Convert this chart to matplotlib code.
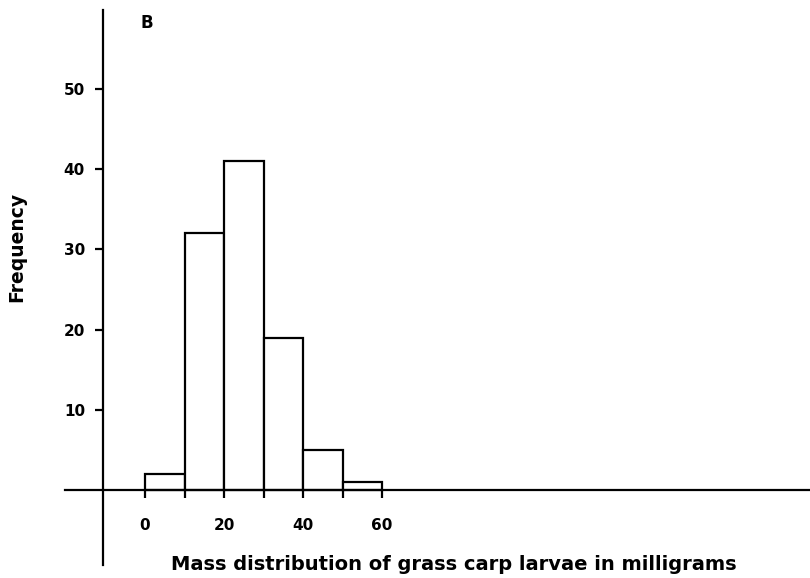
import matplotlib
matplotlib.use("Agg")
import matplotlib.pyplot as plt

bin_edges = [0, 10, 20, 30, 40, 50, 60]
frequencies = [2, 32, 41, 19, 5, 1]
x_tick_labels = ["0", "", "20", "", "40", "", "60"]
y_ticks = [10, 20, 30, 40, 50]
panel_label = "B"
x_title = "Mass distribution of grass carp larvae in milligrams"
y_title = "Frequency"

W, H = 810, 578
plt.rcParams['font.family'] = ['DejaVu Sans']
fig = plt.figure(figsize=(W / 100, H / 100), dpi=100)
ax = fig.add_axes([0, 0, 1, 1])

# pixel mapping: x=0 at px 145, 3.95 px/unit ; y=0 at px 490, 8.02 px/unit
xs, x0 = 3.95, 145
ys, y0 = 8.02, 490
ax.set_xlim(-x0 / xs, (W - x0) / xs)
ax.set_ylim(-(H - y0) / ys, y0 / ys)

widths = [bin_edges[i + 1] - bin_edges[i] for i in range(len(frequencies))]
ax.bar(bin_edges[:-1], frequencies, width=widths, align='edge',
       facecolor='white', edgecolor='black', linewidth=1.6, zorder=3)

for s in ['top', 'right']:
    ax.spines[s].set_visible(False)
ax.spines['left'].set_position(('data', (103 - x0) / xs))
ax.spines['left'].set_bounds((y0 - 565) / ys, (y0 - 10) / ys)
ax.spines['bottom'].set_position(('data', 0))
ax.spines['bottom'].set_bounds((65 - x0) / xs, (W - x0) / xs)
for s in ['left', 'bottom']:
    ax.spines[s].set_linewidth(1.6)
    ax.spines[s].set_zorder(4)

ax.set_xticks(bin_edges)
ax.set_xticklabels(x_tick_labels)
ax.set_yticks(y_ticks)
ax.set_yticklabels([str(v) for v in y_ticks])
ax.tick_params(axis='x', direction='out', length=6, width=1.6, pad=14,
               labelsize=11)
ax.tick_params(axis='y', direction='out', length=6, width=1.6, pad=7,
               labelsize=11)
for lab in ax.get_xticklabels() + ax.get_yticklabels():
    lab.set_fontweight('bold')

fig.text(454 / W, 1 - 564 / H, x_title, ha='center', va='center',
         fontsize=14, fontweight='bold')
fig.text(17 / W, 1 - 247 / H, y_title, ha='center', va='center',
         rotation=90, fontsize=13.5, fontweight='bold')
fig.text(147 / W, 1 - 23 / H, panel_label, ha='center', va='center',
         fontsize=12, fontweight='bold')

fig.savefig("out.png", dpi=100)
